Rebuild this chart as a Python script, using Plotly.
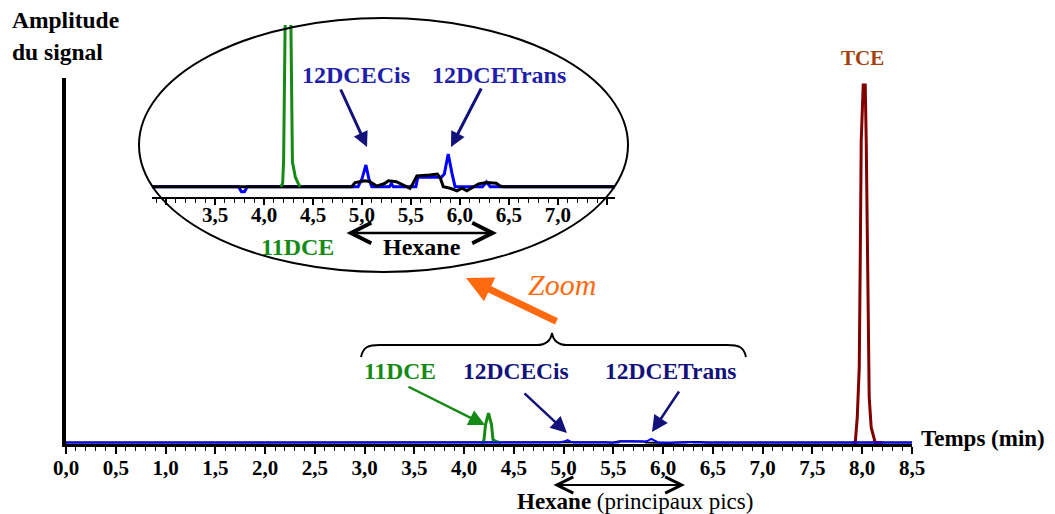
import plotly.graph_objects as go

# The page body adds an 8 px margin: every position below is given in window pixels,
# then shifted by that margin.
OFF = 8
W, H = 1055 - 2 * OFF, 514 - OFF
SERIF = "Liberation Serif"

# ---------------- data (amplitude in arbitrary units, TCE peak = 100) ----------------
blue_t = [0.0, 3.74, 3.77, 3.80, 3.83, 4.96, 5.00, 5.04, 5.07, 5.10, 5.28, 5.30, 5.32,
          5.55, 5.57, 5.81, 5.84, 5.88, 5.92, 5.95, 6.23, 6.27, 6.31, 8.5]
blue_y = [0.0, 0.0, -0.16, -0.16, 0.0, 0.0, 0.25, 0.69, 0.25, 0.0, 0.0, 0.1, 0.0,
          0.0, 0.3, 0.3, 0.4, 1.04, 0.4, 0.0, 0.0, 0.15, 0.0, 0.0]

green_t = [4.17, 4.19, 4.20, 4.215, 4.245, 4.275, 4.29, 4.32, 4.35, 4.37]
green_y = [0.0, 0.1, 0.8, 5.0, 8.2, 5.0, 0.8, 0.3, 0.1, 0.0]

hexane_t = [0.0, 4.895, 4.93, 5.03, 5.08, 5.15, 5.23, 5.27, 5.35, 5.42, 5.49, 5.52, 5.56,
            5.69, 5.77, 5.80, 5.83, 5.90, 5.97, 6.02, 6.07, 6.14, 6.19, 6.27, 6.37,
            6.41, 6.44, 8.5]
hexane_y = [0.0, 0.0, 0.13, 0.19, 0.16, 0.02, 0.10, 0.19, 0.16, 0.05, -0.05, 0.10, 0.34,
            0.37, 0.40, 0.27, 0.0, -0.05, -0.13, -0.05, -0.13, 0.0, 0.09, 0.13, 0.11,
            0.02, 0.0, 0.0]

tce_t = [7.90, 7.93, 7.95, 7.97, 7.98, 7.99, 8.01, 8.03, 8.04, 8.05, 8.06, 8.07, 8.09, 8.13, 8.20]
tce_y = [0.0, 0.0, 7.0, 21.0, 51.0, 84.6, 100.0, 100.0, 84.6, 54.6, 26.6, 12.6, 4.2, 0.0, 0.0]

main_ticks = [0.0, 0.5, 1.0, 1.5, 2.0, 2.5, 3.0, 3.5, 4.0, 4.5, 5.0, 5.5, 6.0, 6.5, 7.0, 7.5, 8.0, 8.5]
main_ticklabels = ["0,0", "0,5", "1,0", "1,5", "2,0", "2,5", "3,0", "3,5", "4,0", "4,5",
                   "5,0", "5,5", "6,0", "6,5", "7,0", "7,5", "8,0", "8,5"]
inset_ticks = [3.0, 3.5, 4.0, 4.5, 5.0, 5.5, 6.0, 6.5, 7.0, 7.5]
inset_ticklabels = ["", "3,5", "4,0", "4,5", "5,0", "5,5", "6,0", "6,5", "7,0", ""]

# ---------------- colours ----------------
GREEN = "#158a15"
NAVY = "#12127a"
BLUE = "#0000ff"
INSET_BLUE = "#1e1eaa"
MAROON = "#800000"
TCE_TXT = "#a3410e"
ORANGE = "#ff6a10"


def px(x):
    return (x - OFF) / W


def py(y):
    return 1 - (y - OFF) / H


fig = go.Figure()

# main chromatogram
fig.add_trace(go.Scatter(x=hexane_t, y=hexane_y, mode="lines", line=dict(color="black", width=2),
                         xaxis="x", yaxis="y"))
fig.add_trace(go.Scatter(x=green_t, y=green_y, mode="lines", line=dict(color=GREEN, width=3),
                         xaxis="x", yaxis="y"))
fig.add_trace(go.Scatter(x=tce_t, y=tce_y, mode="lines", line=dict(color=MAROON, width=3),
                         xaxis="x", yaxis="y"))
fig.add_trace(go.Scatter(x=blue_t, y=blue_y, mode="lines", line=dict(color=BLUE, width=2),
                         xaxis="x", yaxis="y"))

# zoomed inset
fig.add_trace(go.Scatter(x=blue_t, y=blue_y, mode="lines", line=dict(color=BLUE, width=3),
                         xaxis="x2", yaxis="y2"))
fig.add_trace(go.Scatter(x=hexane_t, y=hexane_y, mode="lines", line=dict(color="black", width=3),
                         xaxis="x2", yaxis="y2"))
fig.add_trace(go.Scatter(x=green_t, y=green_y, mode="lines", line=dict(color=GREEN, width=3),
                         xaxis="x2", yaxis="y2"))


def label(text, x, y, size, color, bold=True, italic=False, xanchor="center"):
    return dict(text=text, x=px(x), y=py(y), xref="paper", yref="paper", showarrow=False,
                xanchor=xanchor, yanchor="middle",
                font=dict(family=SERIF, size=size, color=color,
                          weight="bold" if bold else "normal",
                          style="italic" if italic else "normal"))


def arrow(hx, hy, tx, ty, color, width, head, size, side="end"):
    return dict(text="", x=px(hx), y=py(hy), xref="paper", yref="paper",
                ax=tx - hx, ay=ty - hy, showarrow=True, arrowcolor=color,
                arrowwidth=width, arrowhead=head, arrowsize=size, arrowside=side,
                startarrowhead=head, startarrowsize=size)


annotations = [
    label("Amplitude", 10, 20, 23.5, "black", xanchor="left"),
    label("du signal", 10, 52, 23.5, "black", xanchor="left"),
    label("TCE", 862, 58, 21, TCE_TXT),
    label("Temps (min)", 983, 438, 23, "black"),
    label("11DCE", 400, 371, 23.5, GREEN),
    label("12DCECis", 516, 371, 23.5, NAVY),
    label("12DCETrans", 670, 371, 23.5, NAVY),
    label("<b>Hexane</b> (principaux pics)", 635, 501, 23, "black", bold=False),
    label("Zoom", 562, 284, 30, ORANGE, bold=False, italic=True),
    label("12DCECis", 356, 75, 24, INSET_BLUE),
    label("12DCETrans", 499, 75, 24, INSET_BLUE),
    label("11DCE", 297, 247, 24, GREEN),
    label("Hexane", 422, 247, 24, "black"),
    # arrows
    arrow(485, 425, 407, 386, GREEN, 2.5, 2, 1.3),
    arrow(567, 433, 523, 392, NAVY, 2.5, 2, 1.3),
    arrow(652, 432, 680, 390, NAVY, 2.5, 2, 1.3),
    arrow(466, 278, 558, 322, ORANGE, 7, 2, 0.75),
    arrow(685, 485, 552, 485, "black", 2, 5, 1.6, side="end+start"),
    arrow(367, 147, 340, 88, NAVY, 3, 2, 1.0),
    arrow(451, 147, 482, 87, NAVY, 3, 2, 1.0),
    arrow(497, 233, 345, 233, "black", 2.5, 5, 1.6, side="end+start"),
]


def P(x, y):
    return f"{px(x):.5f},{py(y):.5f}"


brace = ("M " + P(361, 357) + " C " + P(363, 347) + " " + P(368, 345) + " " + P(380, 345) +
         " L " + P(537, 345) + " C " + P(546, 345) + " " + P(551, 340) + " " + P(552, 333) +
         " C " + P(553, 340) + " " + P(558, 345) + " " + P(567, 345) +
         " L " + P(727, 345) + " C " + P(739, 345) + " " + P(744, 347) + " " + P(746, 357))

shapes = [
    dict(type="circle", xref="paper", yref="paper", x0=px(139), x1=px(628), y0=py(272), y1=py(18),
         line=dict(color="black", width=2)),
    dict(type="path", xref="paper", yref="paper", path=brace, line=dict(color="black", width=2)),
]

tickfont = dict(family=SERIF, size=21, color="black", weight="bold")

fig.update_layout(
    width=W, height=H, margin=dict(l=0, r=0, t=0, b=0, pad=0, autoexpand=False),
    paper_bgcolor="white", plot_bgcolor="white", showlegend=False,
    xaxis=dict(domain=[px(66), px(912)], range=[0, 8.5], anchor="y", automargin=False,
               showline=True, linecolor="black", linewidth=2.5, mirror=False,
               ticks="outside", tickvals=main_ticks, ticktext=main_ticklabels,
               ticklen=7, tickwidth=1.5, tickcolor="black", ticklabelstandoff=-4,
               minor=dict(tickmode="linear", tick0=0, dtick=0.1, ticks="outside",
                          ticklen=4, tickwidth=1.2, tickcolor="black"),
               showgrid=False, zeroline=False, tickfont=tickfont),
    yaxis=dict(domain=[py(444), py(78)], range=[-0.42, 101.96], anchor="x", automargin=False,
               showline=True, linecolor="black", linewidth=3.5,
               showticklabels=False, ticks="", showgrid=False, zeroline=False),
    xaxis2=dict(domain=[px(152), px(615)], range=[2.857, 7.582], anchor="y2", automargin=False,
                showline=True, linecolor="black", linewidth=2,
                ticks="outside", tickvals=inset_ticks, ticktext=inset_ticklabels,
                ticklen=6, tickwidth=1.5, tickcolor="black", ticklabelstandoff=-8,
                minor=dict(tickmode="linear", tick0=0, dtick=0.1, ticks="outside",
                           ticklen=4, tickwidth=1.2, tickcolor="black"),
                showgrid=False, zeroline=False, tickfont=tickfont),
    yaxis2=dict(domain=[py(196.5), py(25)], range=[-0.311, 5.13], anchor="x2", automargin=False,
                visible=False, showgrid=False, zeroline=False),
    annotations=annotations,
    shapes=shapes,
)

fig.write_html("out.html")
